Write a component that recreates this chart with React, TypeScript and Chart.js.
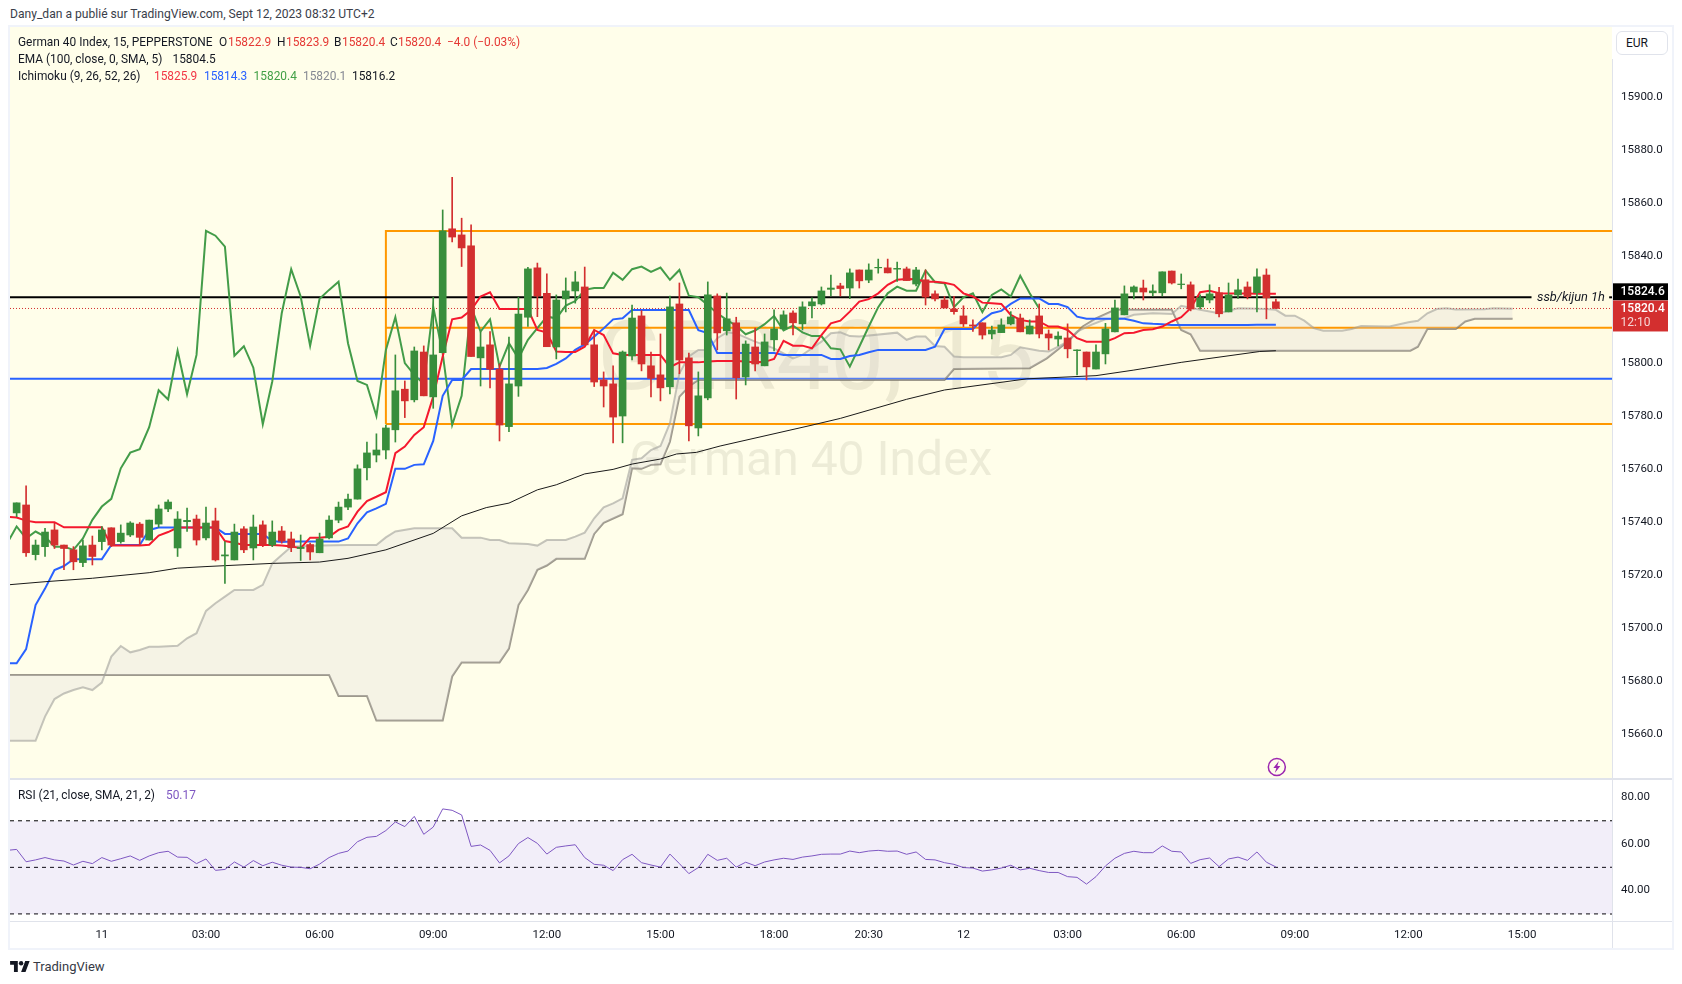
import React, { useEffect, useRef } from "react";
import { Chart, registerables } from "chart.js";

Chart.register(...registerables);

// ---------- candles (bar 0 .. 133) ----------
const opens = [15743.4,15746.4,15727.7,15730.7,15737,15731.3,15729.5,15724.7,15731.3,15732.6,15737.8,15732.6,15735.1,15739.2,15733.2,15739.2,15744.9,15730.2,15740.1,15741.1,15734,15740.4,15727.2,15725.7,15737.4,15730.2,15738.9,15731.3,15736.6,15733.6,15730,15731.5,15728.4,15734,15740.7,15745.6,15748.6,15760.4,15765.2,15767.1,15774.7,15790,15786,15804,15787.1,15803.8,15850.4,15848.1,15844,15801.8,15806.7,15797.6,15775.9,15791.2,15817.1,15835.7,15826.1,15805.9,15824,15827,15828.5,15806.7,15793.5,15792,15779.9,15802.5,15817.6,15798.8,15795.4,15790.9,15822.1,15801.8,15775.4,15786.7,15825.1,15812,15815,15794.6,15805.9,15798.8,15808.6,15812.7,15818.7,15814.6,15821.4,15822.1,15827.6,15828.9,15828.1,15834.9,15831.1,15835.7,15835.7,15835.2,15835.3,15829.6,15831.2,15825.9,15823.6,15820.2,15817.6,15814.2,15815,15810.8,15811.3,15814.6,15816.8,15810.8,15817.6,15810.8,15808.9,15809.3,15804.5,15804,15797.6,15803.3,15811.6,15818,15826.6,15828.1,15826.3,15826.3,15834.5,15829.4,15829.3,15821,15823.6,15826.3,15819.1,15825.5,15828.5,15826.3,15833,15822.9];
const highs = [15747.2,15753.6,15733.2,15737.6,15739.5,15731.3,15730.7,15733.2,15734.7,15738.3,15737.8,15738.9,15740.1,15739.8,15740.7,15746.4,15748.3,15743.9,15745.2,15742.6,15745.6,15745.2,15732.6,15739.2,15738.3,15742.6,15740.4,15740.4,15738.3,15736.2,15735.1,15732,15735.8,15742.3,15747.5,15750.5,15761.5,15770.1,15773.2,15776.5,15802.9,15793.1,15805.9,15806.3,15824.6,15857.5,15869.8,15854.4,15851.9,15811.5,15811.7,15799.5,15809.6,15824.6,15835.9,15837.5,15833.4,15825.5,15831.9,15834.3,15836,15812.3,15796.5,15798.8,15804.4,15821.7,15819.6,15804,15810.8,15825.1,15830,15803.6,15796.5,15830.4,15825.9,15826.2,15817.1,15808.2,15813,15810.8,15819.9,15819.5,15819.5,15822.9,15824.4,15828.5,15833,15829.9,15835.3,15834.9,15837.2,15839,15839,15837.9,15836,15835.9,15834.9,15827,15824.9,15825,15821.4,15816.1,15815,15813.8,15816.5,15819.2,15818.3,15816.1,15822.1,15812.3,15811.6,15814.6,15804.8,15804,15806.7,15814.8,15823.6,15828.9,15828.9,15831.1,15829.3,15834.2,15834.5,15833.4,15830.4,15825.5,15829.3,15828.4,15830,15831.5,15830.4,15835.3,15835.3,15823.9];
const lows = [15742,15727,15725.7,15727,15730,15722,15722,15723.2,15723.8,15729.5,15730.7,15732,15734.5,15731.3,15733.2,15738,15743.9,15727,15736.4,15731.3,15733.2,15725.3,15716.9,15725.7,15728.4,15725.7,15730.7,15730.7,15732,15728.8,15725.5,15725.7,15728.4,15733.6,15739.7,15744.6,15748.6,15755.8,15762.6,15763.7,15770.1,15779.3,15785.2,15787.5,15782.8,15803.8,15845.5,15836.2,15802.3,15791.2,15790.5,15770.5,15774,15787.3,15813.6,15817.3,15806,15801.4,15819.1,15822.4,15806.7,15791,15783.3,15769.8,15769.8,15801,15796.9,15787.1,15785.6,15788.2,15795.8,15770.5,15772.4,15786,15804.8,15810.4,15786.3,15791.6,15796.9,15798.8,15804.4,15812.7,15810.4,15812.3,15816.8,15821.7,15825.1,15825.1,15824.1,15828.1,15830.1,15833.7,15833.8,15830.6,15830.9,15828.9,15821.7,15823.2,15820.6,15818.3,15813.6,15811.8,15808.9,15808.9,15811.3,15814.2,15811.6,15810.8,15809.3,15804.8,15806.3,15801.8,15795.4,15793.5,15797.6,15799.5,15811.6,15818,15824,15823.6,15825.1,15825.1,15829.6,15827.8,15819.5,15820.2,15822.5,15817.2,15819.1,15824.2,15824,15819.1,15816.5,15820.4];
const closes = [15747.2,15728.4,15731.3,15736.2,15731.3,15730,15725,15731,15727,15737,15731.3,15735.8,15739.6,15734.2,15740.7,15744.9,15747.5,15741.1,15740.6,15733.2,15739.6,15725.7,15727.6,15736.2,15729.5,15738.1,15731.6,15736.2,15732.8,15730.3,15730.5,15728.7,15733.6,15740.7,15745.6,15748.6,15760,15766,15767.1,15775.4,15789.4,15785.6,15804.4,15787.5,15802.9,15849.6,15847.3,15843.2,15802.3,15805.9,15797.5,15776.5,15792,15818.3,15835.3,15825.1,15806,15823.6,15827,15830.4,15806.7,15792.7,15791.2,15779.5,15804,15816.8,15799.5,15794.1,15790.5,15821,15801,15776.2,15787.5,15825.5,15811.2,15816.5,15794.3,15807,15799.5,15807.8,15812.7,15818,15815,15821,15822.9,15827,15828.1,15827.9,15833.8,15830.8,15834.9,15835.9,15833.8,15835.5,15830.9,15834.9,15824.7,15824,15820.6,15819.2,15814.6,15813.8,15810.4,15812.3,15814.2,15817.2,15811.6,15813.8,15810.8,15809.3,15810,15805.2,15804.8,15798.4,15804,15812.7,15820.6,15825.9,15828.5,15826.6,15827,15834.2,15830,15829.6,15820.2,15824.4,15825.9,15818.4,15825.5,15827.4,15824.8,15832.3,15824.4,15820.4];

// ---------- Ichimoku conversion / base lines start at bar -1 ----------
const tenkan = [15741.9,15741.7,15740.5,15739.9,15739.9,15739.9,15738,15738,15738,15738,15738,15731.1,15731.1,15731.1,15731.1,15731.4,15734.9,15736.2,15737.9,15737.9,15737.9,15737.9,15737.9,15732.8,15732.2,15731.3,15731.3,15731.3,15731.3,15731.1,15730.8,15730.1,15734.1,15734.1,15734.4,15737,15738.3,15743.9,15747.9,15749.5,15751.2,15765.9,15768.4,15772.8,15775.7,15787.2,15802.3,15816.3,15817,15819.8,15824.9,15826.5,15820.2,15820.2,15820.2,15820.2,15812.3,15811.3,15804.2,15804,15804,15806,15812.3,15810.4,15803.5,15802.9,15802.9,15802.9,15802.9,15802.9,15798.3,15800.1,15800.1,15800.1,15800.4,15800.6,15800.6,15800.6,15800.4,15800.1,15800.3,15801.4,15808.2,15806.4,15806.4,15805.4,15810.4,15814.8,15815.8,15819.2,15823,15823.9,15826.1,15829.3,15831.2,15831.5,15831.4,15830.5,15830.5,15830.1,15829.3,15826.1,15824.9,15822.6,15822.4,15822.1,15818,15816.1,15815.5,15815.5,15813.6,15813.6,15812.3,15809.2,15807.9,15807.9,15807.9,15809.2,15811.1,15811.3,15812.3,15812.6,15813.6,15815.5,15817.1,15820.5,15826.5,15827.1,15826.1,15826,15826,15826,15825.9,15825.9,15825.9];
const kijun = [15686.8,15686.8,15692.1,15708.7,15714.9,15721.9,15723.4,15726,15726,15726,15726,15731.3,15731.3,15731.3,15731.3,15737,15737.9,15737.9,15737.9,15737.9,15737.9,15737.9,15737.9,15735.5,15735.5,15735.5,15735.5,15735.5,15732.8,15732.5,15732.6,15732.6,15732.6,15732.6,15732.6,15732.6,15733.8,15739.5,15743.6,15745.1,15746.8,15760,15760,15761.5,15761.7,15770.5,15787.5,15793.5,15793.5,15797.6,15797.6,15797.6,15797.6,15797.6,15797.6,15797.6,15797.6,15798,15799.5,15801.6,15804.8,15806.9,15809.8,15812.9,15816.3,15816.7,15819.8,15819.8,15819.8,15819.8,15819.8,15819.8,15819.8,15812.2,15811.1,15803.6,15803.6,15803.6,15803.6,15803.6,15803.6,15803.6,15802.9,15802.9,15802.9,15802.9,15802.9,15801.4,15801.4,15802.5,15802.9,15803.9,15804.8,15804.8,15804.8,15804.8,15804.8,15804.8,15806,15812.7,15812.7,15812.7,15812.7,15816.1,15818.6,15819.5,15822.1,15824.2,15824.2,15824.2,15822.1,15822.1,15820.9,15817.3,15816.5,15816.5,15816.5,15816.5,15816.5,15815.8,15814.8,15814.6,15814.5,15814.2,15814.2,15814.2,15814.2,15814.2,15814.2,15814.2,15814.2,15814.2,15814.3,15814.3,15814.3];
const chikou = [15732,15738.3,15733.8,15736.4,15734.5,15730.7,15730.7,15729.5,15733.8,15740.8,15745.8,15748.7,15760.2,15766.1,15767.4,15775.7,15789.6,15786.1,15804.5,15788.1,15802.9,15849.6,15847.8,15843.7,15802.6,15806.2,15798.1,15776.8,15792.9,15818.6,15835.2,15824.9,15806.3,15824.1,15827.4,15830.5,15807.3,15793.1,15791.6,15779.9,15804.8,15817.1,15799.8,15795.4,15792,15821,15803.5,15776.5,15787.5,15821,15811.7,15816.3,15798.5,15807.3,15801.6,15808.6,15813,15817.3,15816.7,15821.5,15823.2,15827.4,15828.1,15828.1,15833.9,15831.2,15835.2,15836.2,15834.2,15835.8,15831.2,15834.9,15825.2,15824.6,15821.7,15818.6,15816.1,15813.9,15810.7,15812.1,15814.5,15817.6,15812.1,15813.9,15811.4,15810,15810,15805.4,15805,15798.5,15806,15813.6,15820.9,15826.1,15828.6,15827.1,15827.1,15834.7,15830.3,15829.9,15820.9,15824.6,15826.1,15819,15825.5,15827.6,15824.9,15832.7,15826.1,15820.4];

// ---------- vertices: bar number + value ----------
const emaBars = [-1,3,8,14,17,20,27,32,35,39,44,47,49.6,52,55,57,60,63,65,68,69.7,71.8,74.3,83.8,87,94,98,106.7,114,118,123,131.3,133];
const emaVals = [15716.3,15717.5,15718.8,15720.9,15722.6,15723.2,15724.4,15724.9,15726.3,15729.5,15735.7,15742.3,15745.4,15747.1,15752.1,15754,15758.1,15759.8,15761.8,15763.7,15765.6,15766.2,15768.6,15776.3,15779,15786.2,15789.7,15793.9,15795.1,15797.2,15800.1,15804.2,15804.5];
const spanABars = [-1,2,3,4,5,6,7,8,9,10,11,12,13,14,15,17,18,19,20,21,22,23,25,26,27,28,29,32,35,38,39,40,42,46,47,49,50,51,52,54,55,56,58,59,60,61,62,63,64,65,66,67,68,69,70,71,72,73,74,75,76,78,80,82,83,84,85,86,87,88,89,93,94,95,96,97,98,99,100,104,105,106,108,109,110,111,112,113.5,115,117,118,120,122,123,125,127,129,132,133,134,135,136,137,138,140,141,142,145,147,148,149,150,151,152,155,156,158];
const spanAVals = [15657.6,15657.6,15666.7,15673.3,15675.4,15676.7,15677.7,15676.7,15679.5,15689.3,15693.3,15690.9,15691.8,15693,15693,15693.4,15696.2,15698.1,15706.5,15709.4,15711.9,15714.4,15714.4,15716.3,15724.4,15727.6,15730.7,15731.1,15731.3,15731.3,15734.2,15736.4,15737.6,15737.6,15734.1,15734.1,15733.2,15733.2,15732,15731.7,15731.1,15733.2,15733.2,15734.5,15736,15741.4,15745.5,15747,15748.9,15763.4,15764,15767.1,15768.6,15777.2,15796,15802.3,15804.8,15804.8,15809.2,15811.4,15811,15807.9,15805.4,15801.6,15802.9,15805.4,15807.9,15811.1,15811.4,15810,15809.8,15811.3,15808.6,15809.8,15809.8,15806.3,15806,15802.3,15802,15802,15802.9,15805.8,15804.5,15804.2,15806,15807.9,15811.7,15814.2,15816.3,15816.7,15818,15818.6,15818.3,15821.4,15819.9,15818.6,15820.5,15820.2,15819.9,15817.7,15817.7,15815.8,15813,15812,15812,15812.7,15813.8,15813.6,15815.2,15815.8,15818.6,15820.2,15820.5,15820,15820.1,15820.5,15820.3];
const spanBBars = [-1,33,34,37,38,45,46,47,51,52,53,54,55,56,57,60,61,62,64,65,66,67,68,69,70,71,72,98,99,107,108.8,111,112.6,114,116,122,123,124,125,147.2,148,149,152,153,154,158];
const spanBVals = [15682.4,15682.4,15674.5,15674.5,15665.2,15665.2,15681.8,15687.1,15687.1,15692.3,15708.7,15714.4,15722,15723.6,15726.1,15726.1,15735.5,15739.7,15742.9,15760.2,15760,15761.5,15761.7,15770.2,15787.2,15791,15793.5,15793.5,15797.6,15797.9,15801.6,15807.9,15813.6,15816.7,15819.9,15819.9,15812.3,15810.7,15804.5,15804.5,15806,15812.7,15812.7,15815.5,15816.5,15816.5];

// ---------- RSI starts at bar -1 ----------
const rsi = [57.3,57.7,52.4,53.2,54.2,53.2,52.7,51,52.6,51.6,54.2,52.6,53.7,54.9,53,54.9,56.3,56.9,54.4,54.3,51.6,53.6,48.7,49.1,52.3,50.1,52.9,50.7,52.2,50.9,50.1,50,49.4,51.4,54.2,56,57,61,62.9,63.3,65.8,69.5,67.5,71.9,64.2,67.3,75.1,74.5,72.5,59,59.6,57.3,51.9,54.9,60.2,62.8,60.3,55.7,58.6,59.2,59.7,54.2,51.3,50.9,48.6,53.3,55.6,52,51,50.1,55.7,51.6,47.3,49.9,55.6,53,53.9,50.1,52.2,50.7,52.3,53.2,53.9,53.4,54.4,54.9,55.6,55.7,55.7,57,56.3,57,57.3,56.9,57,55.6,56.6,53.4,53.2,52,51.3,49.9,49.7,48.4,48.9,49.7,50.9,48.9,49.6,48.6,47.8,47.8,46,45.7,42.8,46,50.6,53.9,56,56.9,56.3,56.3,59.2,56.9,56.6,51.7,53.3,54,50.3,53.6,54.4,53,56.6,52.2,50.17];

// ---------- levels and axis labels ----------
const ssbLevel = 15824.6;
const lastPrice = 15820.4;
const blueLevel = 15793.9;
const boxTop = 15849.6;
const boxMid = 15813.1;
const boxBottom = 15776.9;
const boxStartBar = 39;
const xMin = -0.7;
const xMax = 168.5;
const priceTicks = [15660,15680,15700,15720,15740,15760,15780,15800,15820,15840,15860,15880,15900];
const rsiTicks = [40,60,80];
const rsiBands = [70,50,30];
const timeBars = [9,20,32,44,56,68,80,90,100,111,123,135,147,159];
const timeLabels = ["11","03:00","06:00","09:00","12:00","15:00","18:00","20:30","12","03:00","06:00","09:00","12:00","15:00"];

const FONT = "Roboto, sans-serif";
const TICK = { size: 11.5, family: FONT };
const GREEN = "#388e3c";
const RED = "#d32f2f";
const lineOpts = { type: "line", pointRadius: 0, tension: 0, fill: false };

const fromBar = (vals: number[], first: number) => vals.map((y, i) => ({ x: first + i, y }));
const zip = (xs: number[], ys: number[]) => xs.map((x, i) => ({ x, y: ys[i] }));
const hline = (y: number, a = xMin, b = xMax) => [{ x: a, y }, { x: b, y }];

const decorMain = {
  id: "decorMain",
  beforeDatasetsDraw(c: any) {
    const { ctx, chartArea: a, scales } = c;
    const x = scales.x, y = scales.y;
    ctx.save();
    ctx.fillStyle = "#fffeea";
    ctx.fillRect(a.left, a.top, a.width, a.height);
    const bx = x.getPixelForValue(boxStartBar);
    const bt = y.getPixelForValue(boxTop), bb = y.getPixelForValue(boxBottom);
    ctx.fillStyle = "#fffbe3";
    ctx.fillRect(bx, bt, a.right - bx, bb - bt);
    ctx.fillStyle = "rgba(110,105,80,0.12)";
    ctx.textAlign = "center";
    ctx.textBaseline = "middle";
    ctx.font = `96px ${FONT}`;
    ctx.fillText("GER40, 15", 806, 338);
    ctx.font = `48px ${FONT}`;
    ctx.fillText("German 40 Index", 801, 436);
    ctx.restore();
  },
  afterDraw(c: any) {
    const { ctx, chartArea: a, scales } = c;
    const y = scales.y, x = scales.x;
    ctx.save();
    // line label
    ctx.fillStyle = "#131722";
    ctx.textBaseline = "middle";
    ctx.textAlign = "left";
    ctx.font = `italic 12.8px ${FONT}`;
    ctx.fillText("ssb/kijun 1h", a.right - 75, y.getPixelForValue(ssbLevel) + 0.5);
    // price tags
    const tagL = a.right, tagW = 56;
    const ySsb = y.getPixelForValue(ssbLevel);
    const yLast = y.getPixelForValue(lastPrice);
    ctx.fillStyle = "#000";
    ctx.fillRect(tagL, ySsb - 14, tagW, 17);
    ctx.fillStyle = RED;
    ctx.fillRect(tagL, yLast - 8, tagW, 31);
    ctx.font = `500 12px ${FONT}`;
    ctx.fillStyle = "#fff";
    ctx.fillText(ssbLevel.toFixed(1), tagL + 8.5, ySsb - 5.2);
    ctx.fillText(lastPrice.toFixed(1), tagL + 8.5, yLast + 1);
    ctx.fillStyle = "rgba(255,255,255,0.8)";
    ctx.font = `12px ${FONT}`;
    ctx.fillText("12:10", tagL + 8.5, yLast + 15);
    // lightning marker
    const mx = x.getPixelForValue(133.1), my = a.bottom - 12;
    ctx.strokeStyle = "#9c27b0";
    ctx.lineWidth = 1.5;
    ctx.beginPath();
    ctx.arc(mx, my, 8.5, 0, Math.PI * 2);
    ctx.stroke();
    ctx.fillStyle = "#9c27b0";
    ctx.beginPath();
    ctx.moveTo(mx + 2, my - 6);
    ctx.lineTo(mx - 3.5, my + 1);
    ctx.lineTo(mx - 0.5, my + 1);
    ctx.lineTo(mx - 2, my + 6);
    ctx.lineTo(mx + 3.5, my - 1);
    ctx.lineTo(mx + 0.5, my - 1);
    ctx.closePath();
    ctx.fill();
    ctx.restore();
  },
};

const fixedY = (ticks: number[]) => ({
  afterBuildTicks(s: any) {
    s.ticks = ticks.map((value) => ({ value }));
  },
  afterFit(s: any) {
    s.width = 60;
    s.paddingTop = 0;
    s.paddingBottom = 0;
  },
});

export default function App() {
  const mainRef = useRef<HTMLCanvasElement>(null);
  const rsiRef = useRef<HTMLCanvasElement>(null);

  useEffect(() => {
    const bars = opens.map((o, i) => i);
    const colors = bars.map((i) => (closes[i] >= opens[i] ? GREEN : RED));
    const datasets: any[] = [
      { type: "bar", label: "body", data: bars.map((i) => ({ x: i, y: [opens[i], closes[i]] })), backgroundColor: colors, barThickness: 7, grouped: false, order: 0 },
      { type: "bar", label: "wick", data: bars.map((i) => ({ x: i, y: [lows[i], highs[i]] })), backgroundColor: colors, barThickness: 1, grouped: false, order: 1 },
      { ...lineOpts, label: "ema", data: zip(emaBars, emaVals), borderColor: "#1a1a1a", borderWidth: 1, order: 2 },
      { ...lineOpts, label: "tenkan", data: fromBar(tenkan, -1), borderColor: "#f5182e", borderWidth: 2, order: 3 },
      { ...lineOpts, label: "kijun", data: fromBar(kijun, -1), borderColor: "#2962ff", borderWidth: 2, order: 4 },
      { ...lineOpts, label: "chikou", data: fromBar(chikou, -1), borderColor: "#439c49", borderWidth: 2, order: 5 },
      { ...lineOpts, label: "spanA", data: zip(spanABars, spanAVals), borderColor: "rgba(160,160,155,0.6)", borderWidth: 2, order: 6, fill: { target: 7 }, backgroundColor: "rgba(215,211,217,0.26)" },
      { ...lineOpts, label: "spanB", data: zip(spanBBars, spanBVals), borderColor: "rgba(115,110,100,0.7)", borderWidth: 2, order: 7 },
      { ...lineOpts, label: "last", data: hline(lastPrice), borderColor: RED, borderWidth: 1, borderDash: [1, 2], order: 8 },
      { ...lineOpts, label: "ssb", data: hline(ssbLevel, xMin, 160), borderColor: "#000", borderWidth: 2, order: 9 },
      { ...lineOpts, label: "ssb2", data: hline(ssbLevel, 168.2, xMax), borderColor: "#000", borderWidth: 2, order: 9 },
      { ...lineOpts, label: "blue", data: hline(blueLevel), borderColor: "#2962ff", borderWidth: 2, order: 10 },
      { ...lineOpts, label: "boxT", data: [{ x: boxStartBar, y: boxBottom }, { x: boxStartBar, y: boxTop }, { x: xMax, y: boxTop }], borderColor: "#ff9800", borderWidth: 2, order: 11 },
      { ...lineOpts, label: "boxM", data: hline(boxMid, boxStartBar), borderColor: "#ff9800", borderWidth: 2, order: 11 },
      { ...lineOpts, label: "boxB", data: hline(boxBottom, boxStartBar), borderColor: "#ff9800", borderWidth: 2, order: 11 },
    ];
    const main = new Chart(mainRef.current as any, {
      type: "bar",
      data: { datasets },
      plugins: [decorMain],
      options: {
        animation: false,
        responsive: false,
        devicePixelRatio: 1,
        events: [],
        layout: { padding: 0 },
        plugins: { legend: { display: false }, tooltip: { enabled: false } },
        scales: {
          x: { type: "linear", display: false, min: xMin, max: xMax, offset: false, grid: { display: false } },
          y: {
            type: "linear", position: "right", min: 15643.2, max: 15926.4,
            grid: { display: false, drawTicks: false }, border: { display: false },
            ticks: { color: "#131722", font: TICK, padding: 9, callback: (v: any) => Number(v).toFixed(1) },
            ...fixedY(priceTicks),
          },
        },
      },
    } as any);

    const rsiSets: any[] = [
      { ...lineOpts, label: "rsi", data: fromBar(rsi, -1), borderColor: "#7e57c2", borderWidth: 1, order: 0 },
      { ...lineOpts, label: "b70", data: hline(rsiBands[0]), borderColor: "#000", borderWidth: 1, borderDash: [4, 4], order: 1, fill: { target: 3 }, backgroundColor: "rgba(126,87,194,0.1)" },
      { ...lineOpts, label: "b50", data: hline(rsiBands[1]), borderColor: "#000", borderWidth: 1, borderDash: [4, 4], order: 1 },
      { ...lineOpts, label: "b30", data: hline(rsiBands[2]), borderColor: "#000", borderWidth: 1, borderDash: [4, 4], order: 1 },
    ];
    const osc = new Chart(rsiRef.current as any, {
      type: "line",
      data: { datasets: rsiSets },
      options: {
        animation: false,
        responsive: false,
        devicePixelRatio: 1,
        events: [],
        layout: { padding: 0 },
        plugins: { legend: { display: false }, tooltip: { enabled: false } },
        scales: {
          x: {
            type: "linear", min: xMin, max: xMax, offset: false,
            grid: { display: false, drawTicks: false }, border: { display: false },
            ticks: {
              color: "#131722", font: TICK, padding: 7, autoSkip: false, maxRotation: 0,
              callback: (v: any) => timeLabels[timeBars.indexOf(Number(v))] ?? "",
            },
            afterBuildTicks(s: any) {
              s.ticks = timeBars.map((value) => ({ value }));
            },
            afterFit(s: any) {
              s.height = 27;
              s.paddingLeft = 0;
              s.paddingRight = 0;
            },
          },
          y: {
            type: "linear", position: "right", min: 26.95, max: 87.95,
            grid: { display: false, drawTicks: false }, border: { display: false },
            ticks: { color: "#131722", font: TICK, padding: 9, callback: (v: any) => Number(v).toFixed(2) },
            ...fixedY(rsiTicks),
          },
        },
      },
    } as any);
    return () => {
      main.destroy();
      osc.destroy();
    };
  }, []);

  const abs = (left: number, top: number, extra: any = {}): any => ({ position: "absolute", left, top, whiteSpace: "pre", ...extra });
  const row = { font: `11.9px ${FONT}`, color: "#131722", height: 16, lineHeight: "16px" };
  const lineC = "#e0e3eb";
  const upRed = "#e53935";
  const t = (x: number, y: number, text: string, color = "#131722") => (
    <span style={abs(x, y, { ...row, color })}>{text}</span>
  );
  return (
    <div style={{ position: "absolute", left: 0, top: 0, width: 1682, height: 984, background: "#fff", overflow: "hidden", fontFamily: FONT }}>
      <div style={abs(10, 6, { ...row, font: `12.1px ${FONT}`, color: "#3a3e4a" })}>Dany_dan a publié sur TradingView.com, Sept 12, 2023 08:32 UTC+2</div>
      <div style={abs(8, 25, { width: 1662, height: 921, border: "2px solid #f0f3fa" })} />
      <canvas ref={mainRef} width={1662} height={752} style={abs(10, 27, { display: "block" })} />
      <canvas ref={rsiRef} width={1662} height={169} style={abs(10, 779, { display: "block" })} />
      <div style={abs(10, 778, { width: 1662, height: 2, background: lineC })} />
      <div style={abs(10, 921, { width: 1662, height: 1, background: lineC })} />
      <div style={abs(1612, 59, { width: 1, height: 889, background: lineC })} />
      <div style={abs(1616, 31, { width: 50, height: 22, border: `1px solid ${lineC}`, borderRadius: 6, background: "#fff", font: `12px ${FONT}`, color: "#131722", lineHeight: "22px", textIndent: 9 })}>EUR</div>
      {t(18, 34, "German 40 Index, 15, PEPPERSTONE")}
      {t(219, 34, "O")}{t(228, 34, "15822.9", upRed)}
      {t(277, 34, "H")}{t(286, 34, "15823.9", upRed)}
      {t(334, 34, "B")}{t(342, 34, "15820.4", upRed)}
      {t(390, 34, "C")}{t(398, 34, "15820.4", upRed)}
      {t(447, 34, "−4.0 (−0.03%)", upRed)}
      {t(18, 51, "EMA (100, close, 0, SMA, 5)")}{t(172.5, 51, "15804.5")}
      {t(18, 68, "Ichimoku (9, 26, 52, 26)")}
      {t(154, 68, "15825.9", "#f23645")}{t(204, 68, "15814.3", "#2962ff")}{t(253.6, 68, "15820.4", "#43a047")}{t(303, 68, "15820.1", "#868993")}{t(352, 68, "15816.2")}
      {t(18, 787, "RSI (21, close, SMA, 21, 2)")}{t(166, 787, "50.17", "#7e57c2")}
      <svg style={abs(10, 961)} width="20" height="11" viewBox="0 0 36 20">
        <path d="M14 20H7V7H0V0h14v20zM28 20h-8l7.5-20h8L28 20z" fill="#131722" />
        <circle cx="20" cy="4" r="4" fill="#131722" />
      </svg>
      <div style={abs(33, 958, { font: `13px ${FONT}`, color: "#363a45", lineHeight: "18px" })}>TradingView</div>
    </div>
  );
}
